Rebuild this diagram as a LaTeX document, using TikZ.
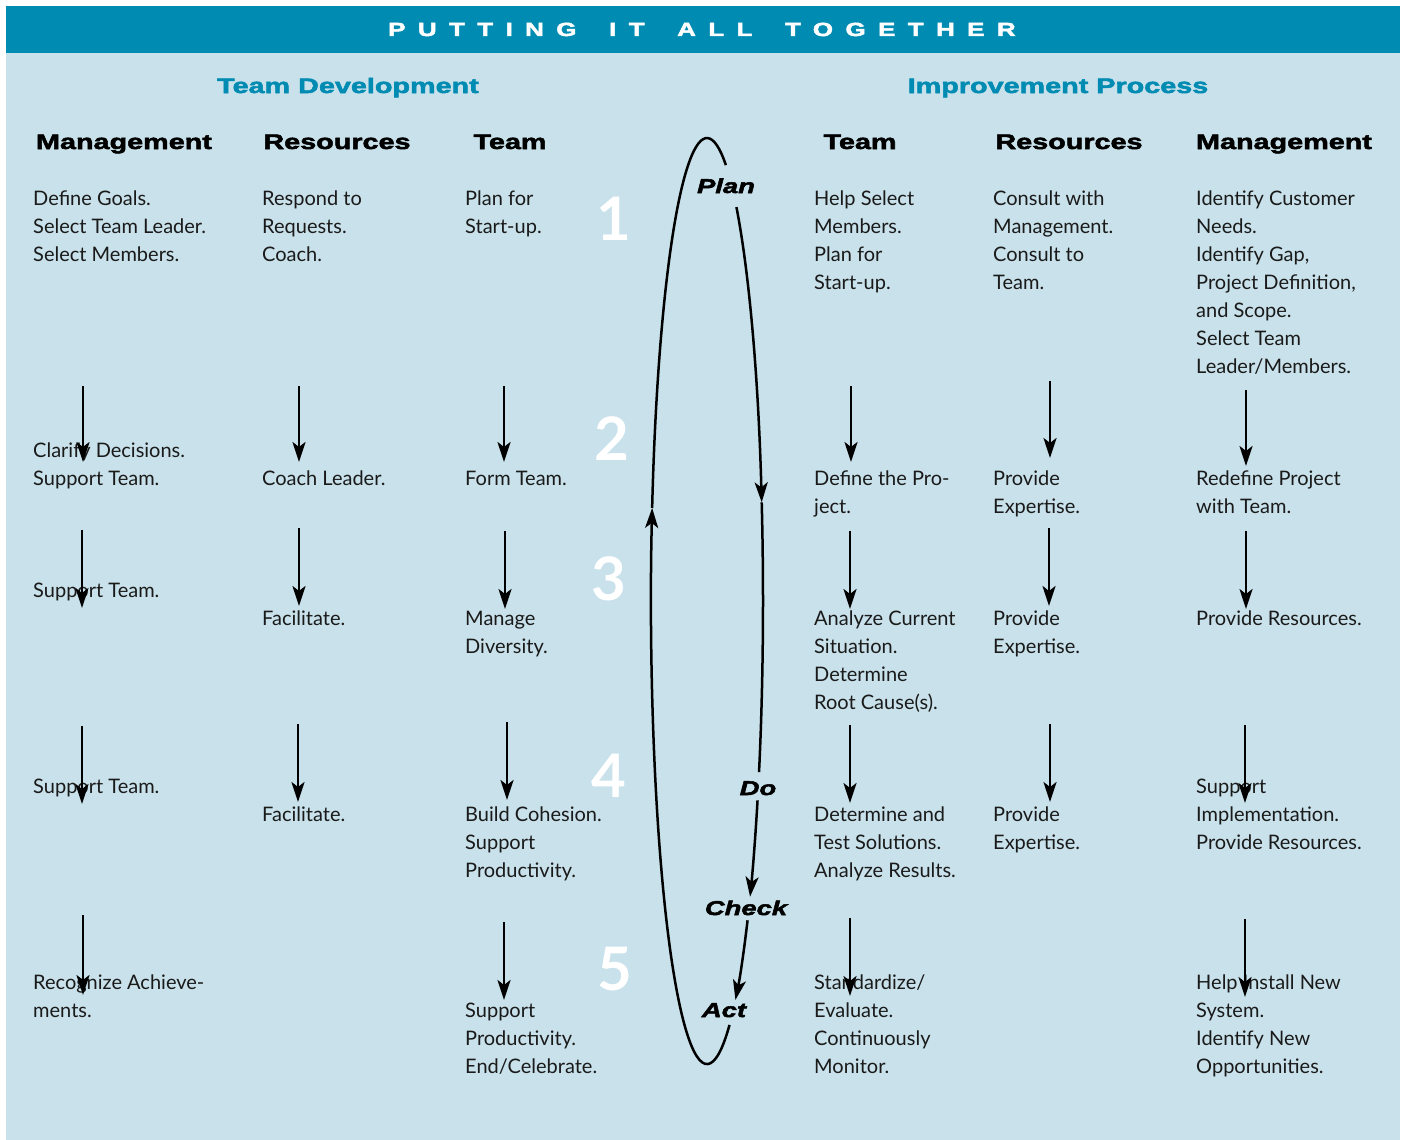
\documentclass[tikz,border=0pt]{standalone}
\usepackage{fontspec}
\setmainfont{Lato}
\newfontfamily\heavyfont{Liberation Sans}[FakeStretch=1.37,
    BoldFeatures={FakeBold=2.5}, BoldItalicFeatures={FakeBold=2.5}]
\usetikzlibrary{arrows.meta,calc}

\definecolor{panelblue}{HTML}{C8E1EA}
\definecolor{barteal}{HTML}{008BB2}
\definecolor{ink}{HTML}{1A1A1A}

% item=<lines below the first one>, placed at the first baseline
\tikzset{item/.style={anchor=base west, align=left, inner sep=0pt, text=ink,
    font=\fontsize{20}{28}\selectfont, yshift={-28pt*#1}}, item/.default=0}
\tikzstyle{colhead} = [anchor=base, inner sep=0pt, font=\heavyfont\bfseries\fontsize{21}{25}\selectfont]
\tikzstyle{title} = [colhead, text=barteal]
\tikzstyle{stage} = [anchor=base, inner sep=0pt, text=white, font=\bfseries\fontsize{60}{60}\selectfont]
\tikzstyle{phase} = [anchor=base, inner sep=0pt, font=\heavyfont\bfseries\itshape\fontsize{20}{24}\selectfont]
\tikzstyle{flow} = [draw, line width=2.5pt, -{Stealth[length=20pt,width=13pt,inset=5pt]}]
\tikzstyle{ring} = [draw, line width=2.5pt]

\begin{document}
\begin{tikzpicture}[x=1pt, y=-1pt]
    \useasboundingbox (0,0) rectangle (1403,1140);
    \fill [panelblue] (6,6) rectangle (1400,1140);
    \fill [barteal] (6,6) rectangle (1400,53);
    \node [anchor=base west, inner sep=0pt, text=white,
        font=\heavyfont\bfseries\fontsize{19}{22}\selectfont\addfontfeature{LetterSpace=65}]
        (banner) at (388,36) {PUTTING\hspace{13pt} IT\hspace{13pt} ALL\hspace{13pt} TOGETHER};

    % the two halves
    \node [title] (devtitle) at (348,93) {Team Development};
    \node [title] (imptitle) at (1058,93) {Improvement Process};
    \node [colhead] (hmgmt) at (124,149) {Management};
    \node [colhead] (hres) at (337,149) {Resources};
    \node [colhead] (hteam) at (510,149) {Team};
    \node [colhead] (hiteam) at (860,149) {Team};
    \node [colhead] (hires) at (1069,149) {Resources};
    \node [colhead] (himgmt) at (1284,149) {Management};

    % team development
    \node [item=2] (mgmt1) at (33,205) {Define Goals.\\Select Team Leader.\\Select Members.};
    \node [item=1] (mgmt2) at (33,457) {Clarify Decisions.\\Support Team.};
    \node [item] (mgmt3) at (33,597) {Support Team.};
    \node [item] (mgmt4) at (33,793) {Support Team.};
    \node [item=1] (mgmt5) at (33,989) {Recognize Achieve-\\ments.};
    \node [item=2] (res1) at (262,205) {Respond to\\Requests.\\Coach.};
    \node [item] (res2) at (262,485) {Coach Leader.};
    \node [item] (res3) at (262,625) {Facilitate.};
    \node [item] (res4) at (262,821) {Facilitate.};
    \node [item=1] (team1) at (465,205) {Plan for\\Start-up.};
    \node [item] (team2) at (465,485) {Form Team.};
    \node [item=1] (team3) at (465,625) {Manage\\Diversity.};
    \node [item=2] (team4) at (465,821) {Build Cohesion.\\Support\\Productivity.};
    \node [item=2] (team5) at (465,1017) {Support\\Productivity.\\End/Celebrate.};

    % improvement process
    \node [item=3] (iteam1) at (814,205) {Help Select\\Members.\\Plan for\\Start-up.};
    \node [item=1] (iteam2) at (814,485) {Define the Pro-\\ject.};
    \node [item=3] (iteam3) at (814,625) {Analyze Current\\Situation.\\Determine\\Root Cause(s).};
    \node [item=2] (iteam4) at (814,821) {Determine and\\Test Solutions.\\Analyze Results.};
    \node [item=3] (iteam5) at (814,989) {Standardize/\\Evaluate.\\Continuously\\Monitor.};
    \node [item=3] (ires1) at (993,205) {Consult with\\Management.\\Consult to\\Team.};
    \node [item=1] (ires2) at (993,485) {Provide\\Expertise.};
    \node [item=1] (ires3) at (993,625) {Provide\\Expertise.};
    \node [item=1] (ires4) at (993,821) {Provide\\Expertise.};
    \node [item=6] (imgmt1) at (1196,205) {Identify Customer\\Needs.\\Identify Gap,\\Project Definition,\\and Scope.\\Select Team\\Leader/Members.};
    \node [item=1] (imgmt2) at (1196,485) {Redefine Project\\with Team.};
    \node [item] (imgmt3) at (1196,625) {Provide Resources.};
    \node [item=2] (imgmt4) at (1196,793) {Support\\Implementation.\\Provide Resources.};
    \node [item=3] (imgmt5) at (1196,989) {Help Install New\\System.\\Identify New\\Opportunities.};

    % stage numbers
    \node [stage] (stage1) at (614,240) {1};
    \node [stage] (stage2) at (612,460) {2};
    \node [stage] (stage3) at (609,600) {3};
    \node [stage] (stage4) at (609,797) {4};
    \node [stage] (stage5) at (615,990) {5};

    % down arrows between the rows
    \foreach \n/\x/\ya/\yb in {a/83/386/462, b/299/386/462, c/504/386/462, d/851/386/462, e/1050/381/458, f/1246/390/466,
        g/82/530/608, h/299/528/606, i/505/531/609, j/850/531/609, k/1049/528/606, l/1246/531/609,
        m/82/726/804, n/298/724/802, o/507/722/800, p/850/725/803, q/1050/724/802, r/1245/725/803,
        s/83/915/995, t/504/922/1000, u/850/918/996, v/1245/919/997} {
        \coordinate (top\n) at (\x,\ya);
        \coordinate (tip\n) at (\x,\yb);
        \draw [flow] (top\n) -- (tip\n);
    }

    % plan do check act
    \node [phase] (plan) at (726,193) {Plan};
    \node [phase] (do) at (758,795) {Do};
    \node [phase] (check) at (746,915) {Check};
    \node [phase] (act) at (724,1017) {Act};
    \coordinate (hub) at (707,601);
    \coordinate (planout) at ($(hub)+(58.3:56pt and 463pt)$);
    \coordinate (rightmid) at ($(hub)+(12.3:56pt and 463pt)$);
    \coordinate (doout) at ($(hub)+(-25.5:56pt and 463pt)$);
    \coordinate (checkout) at ($(hub)+(-43.6:56pt and 463pt)$);
    \coordinate (actout) at ($(hub)+(-66.3:56pt and 463pt)$);
    \coordinate (leftmid) at ($(hub)+(168.4:56pt and 463pt)$);
    \draw [flow] (planout) arc [start angle=58.3, end angle=12.3, x radius=56pt, y radius=463pt];
    \draw [ring] (rightmid) arc [start angle=12.3, end angle=-21.7, x radius=56pt, y radius=463pt];
    \draw [flow] (doout) arc [start angle=-25.5, end angle=-39.7, x radius=56pt, y radius=463pt];
    \draw [flow] (checkout) arc [start angle=-43.6, end angle=-59.5, x radius=56pt, y radius=463pt];
    \draw [flow] (actout) arc [start angle=-66.3, end angle=-191.6, x radius=56pt, y radius=463pt];
    \draw [ring] (leftmid) arc [start angle=168.4, end angle=70.3, x radius=56pt, y radius=463pt];
\end{tikzpicture}
\end{document}
